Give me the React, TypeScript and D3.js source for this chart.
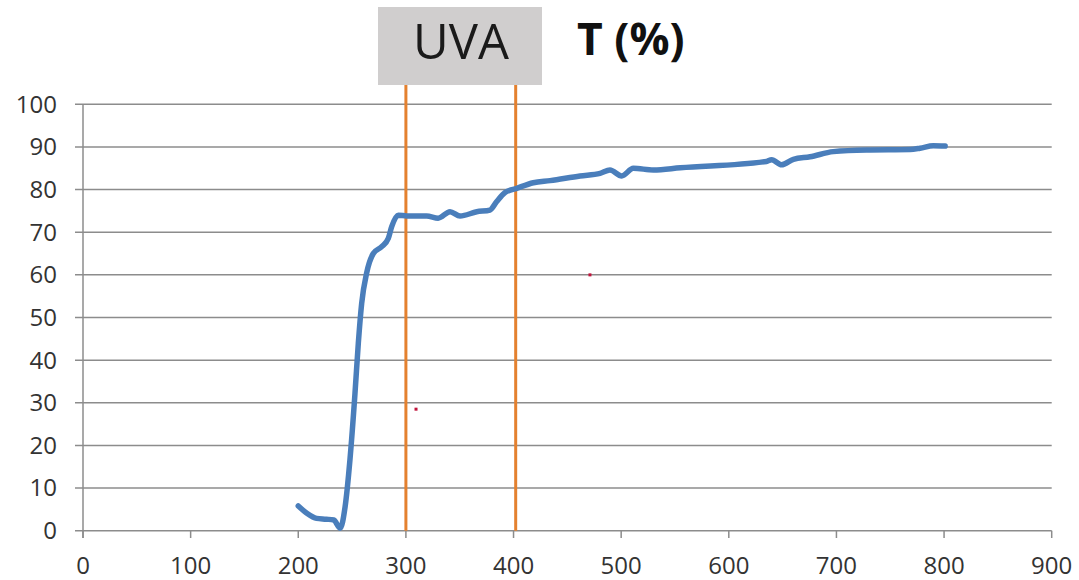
import React from "react";
import * as d3 from "d3";

const wavelength = [200, 208, 217, 226, 233, 239, 243.5, 248, 252.7, 255.8, 258.9, 263.5, 269.7, 277.5, 283.7, 286.8, 293, 300.7, 319.3, 330, 341, 350.3, 365.8, 378.1, 384.4, 392.1, 403, 418.4, 434, 461.8, 480.4, 489.6, 500.5, 511.3, 530, 555, 635, 639.8, 649, 660, 675.5, 697, 728, 768.4, 777.7, 790, 801];
const transmission = [5.8, 4.1, 2.9, 2.7, 2.5, 0.6, 5.6, 16.6, 32.2, 44, 53.3, 60.4, 65, 66.6, 68.6, 71.3, 74, 73.8, 73.8, 73.3, 74.8, 73.8, 74.8, 75.2, 77.2, 79.3, 80.3, 81.6, 82.1, 83.2, 83.8, 84.6, 83.2, 85, 84.6, 85.1, 86.6, 87, 85.8, 87.1, 87.7, 88.9, 89.3, 89.4, 89.7, 90.3, 90.2];
const xTicks = [0, 100, 200, 300, 400, 500, 600, 700, 800, 900];
const yTicks = [0, 10, 20, 30, 40, 50, 60, 70, 80, 90, 100];
const uvaBounds = [300, 402];
const strayDots = [[309.4, 28.5], [471, 60]];
const bandLabel = "UVA";
const title = "T (%)";

export default function App() {
  const x = d3.scaleLinear().domain([0, 900]).range([83, 1051.7]);
  const y = d3.scaleLinear().domain([0, 100]).range([530.7, 104.3]);
  const pts = wavelength.map((w, i) => [w, transmission[i]] as [number, number]);
  const line = d3
    .line<[number, number]>()
    .x((d) => x(d[0]))
    .y((d) => y(d[1]))
    .curve(d3.curveMonotoneX);
  const font = "'Open Sans', 'Liberation Sans', Arial, sans-serif";
  const grid = "#8c8c8c";
  return (
    <svg
      width={1079}
      height={580}
      style={{ position: "absolute", left: 0, top: 0, background: "#fff" }}
    >
      {yTicks.map((t) => (
        <g key={"y" + t}>
          <line x1={75} x2={1051.7} y1={y(t)} y2={y(t)} stroke={grid} strokeWidth={1.5} />
          <text
            x={57}
            y={y(t)}
            dy="0.35em"
            textAnchor="end"
            fontFamily={font}
            fontSize={24}
            fill="#333"
          >
            {t}
          </text>
        </g>
      ))}
      <line x1={x(0)} x2={x(0)} y1={y(100)} y2={538} stroke={grid} strokeWidth={1.5} />
      {xTicks.map((t) => (
        <g key={"x" + t}>
          <line x1={x(t)} x2={x(t)} y1={y(0)} y2={538} stroke={grid} strokeWidth={1.5} />
          <text
            x={x(t)}
            y={566}
            dy="0.35em"
            textAnchor="middle"
            fontFamily={font}
            fontSize={24}
            fill="#333"
          >
            {t}
          </text>
        </g>
      ))}
      {uvaBounds.map((b) => (
        <line key={"b" + b} x1={x(b)} x2={x(b)} y1={85} y2={y(0)} stroke="#E4812F" strokeWidth={3} />
      ))}
      <path d={line(pts) || ""} fill="none" stroke="#4A7EBB" strokeWidth={5.5} strokeLinejoin="round" strokeLinecap="round" />
      {strayDots.map((d, i) => (
        <rect key={"d" + i} x={x(d[0]) - 1.5} y={y(d[1]) - 1.5} width={3} height={3} fill="#c0143c" />
      ))}
      <rect x={378} y={7} width={164} height={78} fill="#D0CECE" />
      <text x={461} y={59} textAnchor="middle" fontFamily={font} fontSize={49} fill="#1a1a1a">
        {bandLabel}
      </text>
      <text x={577} y={55} textAnchor="start" fontFamily={font} fontSize={44.5} fontWeight="bold" fill="#111">
        {title}
      </text>
    </svg>
  );
}
